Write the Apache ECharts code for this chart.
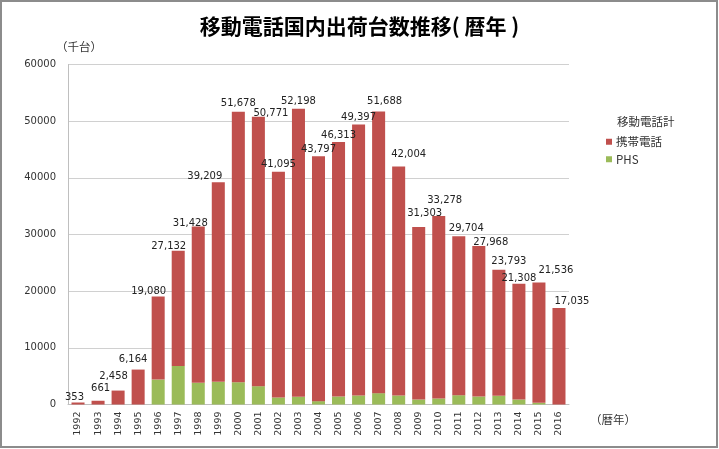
<!DOCTYPE html>
<html>
<head>
<meta charset="utf-8">
<script src="https://cdn.jsdelivr.net/npm/echarts@6/dist/echarts.min.js"></script>
<style>
html,body{margin:0;padding:0;background:#fff;}
#chart{width:719px;height:449px;}
</style>
</head>
<body>
<div id="chart"></div>
<script>
// ---- data ----
const years = ['1992','1993','1994','1995','1996','1997','1998','1999','2000','2001','2002','2003','2004','2005','2006','2007','2008','2009','2010','2011','2012','2013','2014','2015','2016'];
const totals = [353,661,2458,6164,19080,27132,31428,39209,51678,50771,41095,52198,43797,46313,49397,51688,42004,31303,33278,29704,27968,23793,21308,21536,17035];
const phs = [0,0,0,0,4400,6800,3830,4000,3930,3230,1240,1360,590,1410,1590,2000,1590,880,1060,1640,1410,1530,880,300,0];
const mobile = [353,661,2458,6164,14680,20332,27598,35209,47748,47541,39855,50838,43207,44903,47807,49688,40414,30423,32218,28064,26558,22263,20428,21236,17035];
const yTicks = [0,10000,20000,30000,40000,50000,60000];

// label nudges (manual placement as in the original)
const labelNudge = [[-3.5,0],[2.5,-7],[-4.5,-9],[-5,-5],[-9.5,0],[-9.5,1],[-8,1.5],[-13.5,-1],[0,-3],[12.5,2],[0,-2],[0,-2],[0,-1.5],[0,-2],[0,-2.5],[6,-5],[10,-7],[6,-9],[6,-11],[7.5,-3],[12,1],[10,-3],[0,0],[17,-7],[13,-2]];

const RED = '#C0504D', GREEN = '#9BBB59';
const chart = echarts.init(document.getElementById('chart'), null, {renderer:'canvas'});

const mobileData = mobile.map((v,i)=>({
  value: v,
  label: {offset: labelNudge[i]}
}));

chart.setOption({
  animation:false,
  backgroundColor:'#fff',
  textStyle:{fontFamily:'DejaVu Sans, Noto Sans CJK JP, sans-serif'},
  title:[
    {text:'移動電話国内出荷台数推移( 暦年 )', left:'center', top:11,
     textStyle:{fontFamily:'Noto Sans CJK JP', fontWeight:'bold', fontSize:21, color:'#000'}},
    {text:'移動電話計', left:612, top:111,
     textStyle:{fontFamily:'Noto Sans CJK JP', fontWeight:'normal', fontSize:11.5, color:'#333'}},
    {text:'（千台）', left:51, top:36,
     textStyle:{fontFamily:'Noto Sans CJK JP', fontWeight:'normal', fontSize:11.5, color:'#333'}},
    {text:'（暦年）', left:585, top:409,
     textStyle:{fontFamily:'Noto Sans CJK JP', fontWeight:'normal', fontSize:11.5, color:'#333'}}
  ],
  legend:{
    orient:'vertical', left:601, top:131,
    itemWidth:6, itemHeight:6, itemGap:6,
    icon:'rect',
    data:['携帯電話','PHS'],
    textStyle:{fontFamily:'Noto Sans CJK JP, DejaVu Sans', fontSize:11.5, color:'#333', padding:[0,0,0,-1]}
  },
  grid:{left:68, right:150, top:64.5, bottom:44.5, containLabel:false},
  xAxis:{
    type:'category', data:years,
    axisTick:{show:false},
    axisLine:{lineStyle:{color:'#BFBFBF'}},
    axisLabel:{rotate:90, fontSize:9.5, color:'#333', margin:7, fontFamily:'DejaVu Sans'}
  },
  yAxis:{
    type:'value', min:yTicks[0], max:yTicks[yTicks.length-1], interval:10000,
    axisLine:{show:true, lineStyle:{color:'#BFBFBF'}},
    axisTick:{show:false},
    splitLine:{lineStyle:{color:'#D0D0D0'}},
    axisLabel:{fontSize:10, color:'#333', margin:12, fontFamily:'DejaVu Sans', formatter:(v)=>String(v)}
  },
  series:[
    {name:'PHS', type:'bar', stack:'t', data:phs, barCategoryGap:'35%',
     itemStyle:{color:GREEN}},
    {name:'携帯電話', type:'bar', stack:'t', data:mobileData, barCategoryGap:'35%',
     itemStyle:{color:RED},
     label:{show:true, position:'top', distance:0, fontSize:10, color:'#222', fontFamily:'DejaVu Sans',
       formatter:(p)=>totals[p.dataIndex].toLocaleString('en-US')}}
  ],
  graphic:[
    {type:'rect', shape:{x:1, y:1, width:716, height:446}, style:{fill:'none', stroke:'#8C8C8C', lineWidth:2}, silent:true}
  ]
});
</script>
</body>
</html>
